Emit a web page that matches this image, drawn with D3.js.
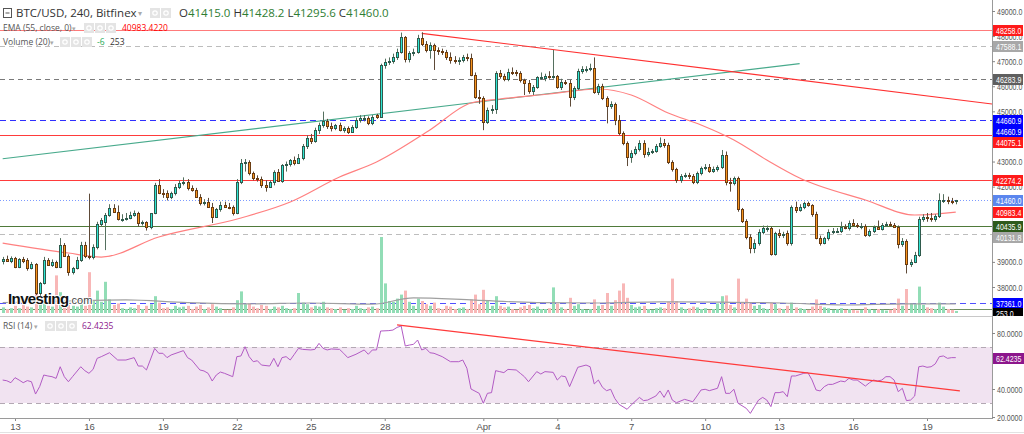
<!DOCTYPE html>
<html lang="en">
<head>
<meta charset="UTF-8"/>
<title>BTC/USD 240 Bitfinex</title>
<script src="https://d3js.org/d3.v7.min.js"></script>
<style>
  body { margin: 0; background: #fff; }
  svg { display: block; font-family: 'Open Sans', 'DejaVu Sans', sans-serif; }
  .ax text { font-family: 'Liberation Sans', Arial, sans-serif; font-size: 9.5px; fill: #555; }
  .ax line { stroke: #888; }
  .ax path { display: none; }
</style>
</head>
<body>
<svg id="chart" width="1024" height="434"></svg>
<script>
// 4h candles, first one at 2022-03-12 12:00 UTC
const firstCandle = Date.UTC(2022, 2, 12, 12);

// [open, high, low, close]
const candles = [
  [39020,39200,38900,39100],[39100,39250,39000,39050],[39050,39220,38950,39150],[39150,39200,38750,38800],
  [38800,39150,38750,39100],[39100,39200,38950,39050],[39080,39150,38650,38750],[38750,39000,38700,38900],
  [38900,38950,37680,37750],[37750,38200,37650,38150],[38150,39200,38100,39080],[39080,39150,38850,38880],
  [38880,39100,38800,39000],[39000,39050,38750,38800],[38800,39950,38750,39680],[39680,39750,39200,39250],
  [39250,39300,38450,38600],[38600,38800,38500,38750],[38750,39200,38700,39080],[39080,39800,39000,39680],
  [39680,39800,39150,39250],[39250,41720,39100,39180],[39180,39700,39100,39580],[39580,40600,39500,40530],
  [40530,40750,40400,40670],[40600,40950,39470,40870],[40870,41300,40800,41130],[41130,41300,40950,41000],
  [41000,41250,40650,40700],[40700,40900,40600,40720],[40720,40950,40650,40750],[40750,41000,40700,40870],
  [40870,41050,40800,40960],[40960,41000,40400,40540],[40540,40650,40450,40580],[40580,40620,40250,40400],
  [40400,40950,40300,40930],[40930,42150,40900,42060],[42060,42300,41700,41760],[41760,41900,41550,41730],
  [41730,41850,41450,41600],[41600,41800,41500,41730],[41730,42100,41650,42000],[42000,42250,41900,42130],
  [42130,42370,42050,42200],[42200,42300,41850,41930],[41930,42050,41800,41870],[41870,41950,41550,41600],
  [41600,41700,41250,41330],[41330,41500,41250,41400],[41400,41550,41150,41200],[41200,41350,40550,40800],
  [40800,41150,40750,41090],[41090,41400,41000,41270],[41270,41400,41150,41200],[41200,41350,41100,41180],
  [41180,41250,40850,40960],[40960,42300,40900,42200],[42200,43100,42100,42950],[42950,43100,42600,43000],
  [43000,43050,42450,42530],[42530,42600,42250,42330],[42330,42450,42200,42290],[42290,42400,41950,42060],
  [42060,42250,41800,42000],[42000,42250,41950,42200],[42200,42650,42050,42600],[42600,42700,42200,42240],
  [42240,42900,42150,42860],[42860,43000,42600,42900],[42900,43100,42800,43050],[43050,43200,42850,42950],
  [42950,43300,42900,43130],[43130,43700,43050,43600],[43600,44050,43500,43950],[43950,44100,43700,43800],
  [43800,44350,43750,44250],[44250,44550,44100,44450],[44450,44990,44350,44600],[44600,44700,44300,44400],
  [44400,44550,44200,44320],[44320,44500,44250,44450],[44450,44550,44200,44260],[44260,44400,44150,44350],
  [44350,44400,44100,44190],[44190,44450,44150,44390],[44390,44750,44300,44650],[44650,44850,44550,44720],
  [44720,44850,44600,44750],[44750,44800,44450,44520],[44520,44850,44450,44790],[44850,44900,44700,44790],
  [44790,46900,44750,46850],[46850,47100,46700,46980],[46980,47150,46850,47020],[47020,47300,46900,47180],
  [47180,47500,47050,47380],[47380,48140,47300,47980],[47980,48000,46950,47070],[47070,47400,46950,47310],
  [47310,47500,47200,47380],[47380,48050,47300,47910],[47910,48150,47600,47700],[47700,47800,47350,47450],
  [47450,47750,47100,47650],[47650,47700,46650,47450],[47450,47550,47250,47420],[47420,47500,47250,47380],
  [47380,47450,47050,47150],[47150,47350,46900,47050],[47050,47200,46900,47020],[47020,47150,46850,47060],
  [47060,47250,46950,47150],[47150,47300,47000,47130],[47130,47300,46400,46450],[46450,46550,45500,45580],
  [45580,45850,45300,45550],[45550,45600,44250,44590],[44590,45150,44500,45050],[45050,45250,44900,45080],
  [45080,46600,44900,46520],[46520,46650,46300,46410],[46410,46500,46200,46280],[46280,46700,46200,46580],
  [46580,46750,46450,46550],[46550,46650,46400,46510],[46510,46600,46150,46250],[46250,46300,45650,46120],
  [46120,46250,45700,45830],[45830,46050,45650,45980],[45980,46400,45900,46350],[46350,46550,46250,46380],
  [46320,46500,46200,46410],[46410,46600,46300,46380],[46380,47450,46300,46420],[46420,46450,45900,45980],
  [45980,46300,45850,46180],[46180,46250,46050,46120],[46120,46250,45190,45580],[45580,46000,45450,45920],
  [45920,46700,45850,46620],[46620,46800,46500,46680],[46680,46800,46550,46700],[46700,46900,46600,46720],
  [46720,47150,45700,45780],[45780,46100,45650,46000],[46000,46100,45450,45520],[45520,45600,44520,45210],
  [45210,45400,45100,45290],[45290,45350,44450,44660],[44660,44850,44050,44120],[44120,44200,43650,43750],
  [43750,43800,42820,43190],[43190,43450,42950,43330],[43330,43600,43250,43480],[43480,43850,43400,43750],
  [43750,43850,43150,43300],[43300,43550,43200,43390],[43390,43500,43300,43430],[43430,43700,43350,43620],
  [43620,43960,43550,43750],[43750,43900,43550,43660],[43660,43750,42900,43000],[43000,43050,42600,42690],
  [42690,42750,42150,42260],[42260,42500,42150,42420],[42420,42550,42350,42450],[42450,42550,42300,42420],
  [42420,42500,42100,42200],[42200,42600,42100,42550],[42550,42800,42450,42750],[42750,42900,42650,42800],
  [42800,42900,42550,42620],[42620,42800,42550,42710],[42710,42850,42600,42790],[42790,43460,42700,43260],
  [43260,43400,42050,42200],[42200,42350,41800,42130],[42130,42400,42050,42330],[42330,42400,41000,41090],
  [41090,41150,40550,40640],[40640,40700,39900,40000],[40000,40100,39340,39540],[39540,39900,39350,39740],
  [39740,40300,39650,40200],[40200,40450,40100,40360],[40330,40450,40200,40360],[40360,40400,39250,39300],
  [39300,40200,39250,40160],[40160,40300,39950,40070],[40070,40200,39950,40100],[40140,40250,39650,39740],
  [39740,41250,39650,41200],[41200,41400,40950,41070],[41070,41300,41000,41170],[41170,41400,41100,41330],
  [41330,41400,41200,41250],[41250,41300,40800,40910],[40910,41000,39900,39940],[39940,40050,39650,39760],
  [39760,40000,39700,39940],[39940,40300,39850,40200],[40200,40350,40100,40230],[40230,40350,40150,40250],
  [40250,40600,40150,40400],[40400,40500,40300,40340],[40340,40650,40250,40560],[40560,40700,40400,40470],
  [40470,40550,40350,40430],[40430,40550,40300,40450],[40450,40500,40000,40070],[40070,40300,40000,40230],
  [40230,40450,40150,40380],[40380,40650,40300,40330],[40330,40550,40250,40470],[40470,40600,40400,40510],
  [40510,40600,40400,40470],[40470,40550,40350,40400],[40400,40450,39540,39710],[39710,39950,39600,39840],
  [39840,39900,38540,38910],[38910,39100,38800,39010],[39010,39400,38950,39270],[39270,40800,39200,40690],
  [40690,40900,40600,40770],[40770,40950,40600,40740],[40740,40950,40600,40690],[40690,40900,40600,40830],
  [40830,41730,40750,41460],[41460,41700,41350,41480],[41480,41600,41300,41430],[41430,41550,41300,41400],
  [41415,41470,41296,41460]
];

const volumes = [
  700,500,600,900,600,1600,800,700,2900,1800,1900,900,800,4700,2600,1400,1500,900,800,1300,
  900,5100,1500,2800,1400,3900,1700,1000,1200,600,500,700,600,1000,500,900,1100,2100,1300,600,
  700,500,900,700,800,900,500,800,1000,500,700,1100,800,600,400,400,700,1600,2700,1100,
  1200,800,600,1000,900,500,800,700,900,600,500,600,2500,1300,1100,700,900,800,1400,700,
  600,500,700,400,600,500,900,600,500,700,800,600,9500,3700,1500,1400,1800,2300,2800,1400,
  900,1800,1500,1100,900,1300,600,500,900,800,500,600,700,500,1700,2300,1100,2900,1500,900,
  2100,900,700,800,500,400,700,900,1000,600,800,500,500,600,3200,1200,700,500,1900,900,
  1100,500,400,500,1700,900,1000,2500,900,1600,2800,3700,1900,1000,700,800,900,500,400,600,
  700,600,1400,4300,1500,700,500,600,800,700,500,600,400,500,1200,2100,2200,1000,700,4300,
  1400,1800,1200,900,1000,600,500,1300,1100,600,500,900,1300,700,600,500,400,800,1700,900,
  700,600,400,500,600,400,500,400,300,400,700,500,400,500,400,300,400,600,1800,900,
  3000,1200,1100,3300,1000,700,600,500,1300,800,500,400,253
];

// [candle index, value]
const volumeMA = [[0,1300],[15,1500],[30,1650],[45,1300],[60,1150],[75,1250],[90,1100],[100,1900],
  [115,1600],[130,1300],[145,1250],[160,1400],[175,1350],[190,1250],[205,1000],[220,1150],[232,1150]];

const ema55 = [[0,39752],[16,39354],[24,39194],[38,39992],[58,40749],[70,41387],[82,42383],[91,42981],
  [104,44257],[114,45333],[121,45492],[133,45692],[145,45891],[153,45652],[162,44934],[170,44456],
  [178,43858],[186,43061],[194,42343],[210,41467],[222,40869],[232,40983]];

const rsi14 = [[0,46.4],[1,45.9],[2,44.5],[3,48.1],[4,46.4],[5,44.5],[6,46.0],[7,45.2],[8,36.4],[9,41.7],
  [10,50.0],[11,49.3],[12,48.8],[13,47.6],[14,55.9],[15,48.8],[16,45.2],[17,48.8],[19,55.9],[20,53.1],
  [21,51.2],[22,54.0],[23,61.9],[24,63.1],[26,65.9],[28,60.7],[30,60.7],[32,62.4],[33,56.4],[34,56.4],
  [35,53.6],[37,69.0],[38,65.5],[39,65.5],[40,62.4],[41,64.3],[44,67.4],[45,62.4],[46,60.7],[48,53.6],
  [49,52.9],[50,51.2],[51,45.7],[52,50.0],[53,52.1],[54,51.2],[56,48.8],[57,63.1],[58,63.6],[59,70.2],
  [60,63.1],[61,59.5],[62,60.2],[63,57.1],[65,56.4],[66,61.9],[67,55.9],[68,62.4],[69,63.1],[70,60.7],
  [71,64.8],[72,69.0],[73,68.3],[75,67.9],[76,68.3],[77,72.6],[78,69.0],[79,67.9],[80,68.6],[82,68.3],
  [83,65.5],[84,62.4],[86,64.8],[88,67.9],[89,64.8],[90,67.9],[91,67.9],[92,81.4],[94,81.7],[95,82.1],
  [96,84.0],[97,85.0],[98,70.7],[99,71.4],[100,71.9],[101,75.0],[102,67.9],[103,69.0],[104,65.9],[105,65.5],
  [107,63.1],[109,59.5],[111,59.5],[112,60.7],[113,54.8],[114,40.0],[116,36.9],[117,29.8],[118,36.9],[119,37.4],
  [120,53.1],[121,52.4],[122,51.7],[123,54.0],[125,53.6],[126,51.2],[127,48.8],[128,45.2],[130,52.4],[131,50.7],
  [132,52.4],[134,51.9],[135,46.4],[136,49.3],[137,48.8],[138,41.7],[140,55.5],[142,57.1],[143,55.9],[144,43.6],
  [145,46.4],[146,41.2],[147,38.8],[148,39.8],[149,33.3],[150,29.1],[152,25.5],[153,28.6],[155,34.0],[156,31.7],
  [157,32.1],[159,35.0],[160,38.6],[161,34.0],[162,39.3],[163,32.1],[164,30.2],[166,32.6],[168,30.9],[169,35.0],
  [170,39.3],[171,39.8],[172,38.8],[174,40.5],[175,48.8],[176,36.9],[177,36.9],[178,39.8],[179,29.8],[181,26.2],
  [182,22.6],[183,27.4],[184,32.1],[185,34.0],[186,32.1],[187,27.4],[188,37.4],[189,37.4],[190,38.1],[191,34.5],
  [192,49.3],[193,49.3],[195,51.2],[196,51.7],[197,46.5],[198,39.3],[199,38.6],[200,41.7],[201,43.3],[202,43.3],
  [204,45.7],[205,45.2],[206,47.6],[207,46.4],[208,46.4],[210,42.1],[211,44.5],[212,46.4],[213,45.7],[214,46.4],
  [215,48.8],[216,48.8],[217,46.4],[218,38.1],[219,40.5],[220,31.7],[221,32.1],[222,35.0],[223,55.9],[224,56.4],
  [225,55.5],[226,55.9],[227,57.9],[228,63.1],[229,63.6],[230,61.9],[231,62.4],[232,62.4]];

// drawn trend lines, [candle index, value]
const trendDown = [[102,48111],[241,45290]];
const trendUp = [[0,43110],[194,46900]];
const rsiTrend = [[96,85.8],[233,38.6]];

// horizontal levels and the axis tags
const levelPrices = [48258.0, 47588.1, 46283.9, 44660.9, 44075.1, 42274.2, 41460.0, 40435.9, 40131.8, 37361.0, 37140.0];
const levelLook = [
  {c:'#ff7b7b', d:null}, {c:'#bdbdbd', d:'5,4'}, {c:'#7a7a7a', d:'5,4'}, {c:'#3030ff', d:'6,4'},
  {c:'#ff3b3b', d:null}, {c:'#ff3b3b', d:null}, {c:'#7d9bff', d:'1,2'}, {c:'#4f7a3a', d:null},
  {c:'#bdbdbd', d:'5,4'}, {c:'#5050ff', d:'6,4'}, {c:'#6f8f60', d:null}
];
const tagPrices = [48258.0, 47588.1, 46283.9, 44660.9, 44660.9, 44075.1, 42274.2, 41460.0, 40983.4, 40435.9, 40131.8, 37361.0];
const tagColors = ['#ff1a1a','#a8a8a8','#5f5f5f','#0000ff','#0000ff','#ff1a1a','#ff1a1a','#5b86ee','#ff1a1a','#2e5a1c','#a8a8a8','#0000ff'];

// tick values that are not fully covered by a tag
const priceTicks = [38000,39000,42000,43000,45000,46000,47000,48000,49000];
const rsiTicks = [20,40,80];
const dayTicks = ['2022-03-13','2022-03-16','2022-03-19','2022-03-22','2022-03-25','2022-03-28',
  '2022-04-01','2022-04-04','2022-04-07','2022-04-10','2022-04-13','2022-04-16','2022-04-19'];
const dayLabels = ['13','16','19','22','25','28','Apr','4','7','10','13','16','19'];

const ohlcNow = ['41415.0','41428.2','41295.6','41460.0'];
const emaNow = '40983.4220';
const volNow = 253;
const rsiNow = '62.4235';

// ---------------------------------------------------------------
const svg = d3.select('#chart');
const AX = 992;
const SQ = 0.74;   // horizontal squeeze of the axis numbers
const x = d3.scaleUtc()
  .domain([new Date('2022-03-13T00:00Z'), new Date('2022-04-19T00:00Z')])
  .range([15, 927]);
const xi = i => x(new Date(firstCandle + i * 4 * 3600 * 1000));
const y = d3.scaleLinear().domain([36844, 49438]).range([316, 0]);
const yv = d3.scaleLinear().domain([0, 10000]).range([313, 233]);
const yr = d3.scaleLinear().domain([20, 80]).range([417, 333]);

const defs = svg.append('defs');
defs.append('clipPath').attr('id', 'cMain').append('rect').attr('x', 0).attr('y', 0).attr('width', AX).attr('height', 316);
defs.append('clipPath').attr('id', 'cRsi').append('rect').attr('x', 0).attr('y', 317).attr('width', AX).attr('height', 101);
defs.append('clipPath').attr('id', 'cVolTag').append('rect').attr('x', AX).attr('y', 0).attr('width', 40).attr('height', 316);

const main = svg.append('g').attr('clip-path', 'url(#cMain)');

// levels
main.append('g').selectAll('line').data(levelPrices).join('line')
  .attr('x1', 0).attr('x2', AX)
  .attr('y1', d => Math.round(y(d)) + 0.5).attr('y2', d => Math.round(y(d)) + 0.5)
  .attr('stroke', (d, i) => levelLook[i].c)
  .attr('stroke-dasharray', (d, i) => levelLook[i].d);

// volume
main.append('g').selectAll('rect').data(volumes).join('rect')
  .attr('x', (d, i) => Math.round(xi(i)) - 1)
  .attr('width', 3)
  .attr('y', d => yv(d))
  .attr('height', d => yv(0) - yv(d))
  .attr('fill', (d, i) => candles[i][3] >= candles[i][0] ? '#92ddb6' : '#f8b7b7');

main.append('path').datum(volumeMA)
  .attr('fill', 'none').attr('stroke', '#a0a0a0').attr('stroke-width', 1.2)
  .attr('d', d3.line().x(d => xi(d[0])).y(d => yv(d[1])).curve(d3.curveMonotoneX));

// watermark
const wm = main.append('text').attr('x', 8).attr('y', 304)
  .style('paint-order', 'stroke').attr('stroke', '#fff').attr('stroke-width', 2);
wm.append('tspan').text('Investing').attr('font-family', 'Liberation Sans, Arial, sans-serif')
  .attr('font-weight', 'bold').attr('font-size', 15).attr('fill', '#111').attr('letter-spacing', -0.6);
wm.append('tspan').text('.com').attr('font-family', 'Liberation Sans, Arial, sans-serif')
  .attr('font-size', 11).attr('fill', '#444');

// trend lines
const tl = d3.line().x(d => xi(d[0])).y(d => y(d[1]));
main.append('path').datum(trendUp).attr('d', tl).attr('stroke', '#48aa8c').attr('stroke-width', 1.2).attr('fill', 'none');
main.append('path').datum(trendDown).attr('d', tl).attr('stroke', '#ff3030').attr('stroke-width', 1.2).attr('fill', 'none');

// EMA 55
main.append('path').datum(ema55)
  .attr('fill', 'none').attr('stroke', '#ff8080').attr('stroke-width', 1.2)
  .attr('d', d3.line().x(d => xi(d[0])).y(d => y(d[1])).curve(d3.curveMonotoneX));

// candles
const cg = main.append('g').selectAll('g').data(candles).join('g');
cg.append('line')
  .attr('x1', (d, i) => Math.round(xi(i)) + 0.5).attr('x2', (d, i) => Math.round(xi(i)) + 0.5)
  .attr('y1', d => y(d[1])).attr('y2', d => y(d[2]))
  .attr('stroke', d => d[3] >= d[0] ? '#55705f' : '#5e4a38');
cg.append('rect')
  .attr('x', (d, i) => Math.round(xi(i)) - 0.5)
  .attr('width', 2)
  .attr('y', d => Math.round(y(Math.max(d[0], d[3]))) + 0.5)
  .attr('height', d => Math.max(1, Math.round(y(Math.min(d[0], d[3]))) - Math.round(y(Math.max(d[0], d[3])))))
  .attr('fill', d => d[3] >= d[0] ? '#2fe6d4' : '#f7941d')
  .attr('stroke', d => d[3] >= d[0] ? '#2f5a4c' : '#6a3c12');

// pane borders
svg.append('line').attr('x1', 0).attr('x2', AX).attr('y1', 316.5).attr('y2', 316.5).attr('stroke', '#c8c8c8');
svg.append('line').attr('x1', 0).attr('x2', AX).attr('y1', 418.5).attr('y2', 418.5).attr('stroke', '#9a9a9a');
svg.append('line').attr('x1', 0).attr('x2', 1024).attr('y1', 432.5).attr('y2', 432.5).attr('stroke', '#e2e2e2');
svg.append('line').attr('x1', AX + 0.5).attr('x2', AX + 0.5).attr('y1', 0).attr('y2', 419).attr('stroke', '#9a9a9a');

// RSI pane
const rp = svg.append('g').attr('clip-path', 'url(#cRsi)');
rp.append('rect').attr('x', 0).attr('width', AX).attr('y', yr(70)).attr('height', yr(30) - yr(70)).attr('fill', '#f1e3f1');
rp.append('g').selectAll('line').data([70, 30]).join('line')
  .attr('x1', 0).attr('x2', AX).attr('y1', d => Math.round(yr(d)) + 0.5).attr('y2', d => Math.round(yr(d)) + 0.5)
  .attr('stroke', '#b3a8b3').attr('stroke-dasharray', '5,4');
rp.append('path').datum(rsi14)
  .attr('fill', 'none').attr('stroke', '#b25bc4').attr('stroke-width', 1)
  .attr('d', d3.line().x(d => xi(d[0])).y(d => yr(d[1])));
rp.append('path').datum(rsiTrend)
  .attr('fill', 'none').attr('stroke', '#ff3a3a').attr('stroke-width', 1.2)
  .attr('d', d3.line().x(d => xi(d[0])).y(d => yr(d[1])));

// axes (numbers squeezed to fit the narrow right strip)
function squeeze(sel, x0) {
  sel.selectAll('.tick text').attr('x', x0 / SQ).attr('transform', `scale(${SQ},1)`);
}
svg.append('g').attr('class', 'ax').attr('transform', `translate(${AX},0)`)
  .call(d3.axisRight(y).tickValues(priceTicks).tickFormat(d => d.toFixed(1)).tickSize(3).tickPadding(2))
  .call(squeeze, 5);
svg.append('g').attr('class', 'ax').attr('transform', `translate(${AX},0)`)
  .call(d3.axisRight(yr).tickValues(rsiTicks).tickFormat(d => d.toFixed(4)).tickSize(3).tickPadding(2))
  .call(squeeze, 5);
svg.append('g').attr('class', 'ax').attr('transform', 'translate(0,419)')
  .call(d3.axisBottom(x).tickValues(dayTicks.map(d => new Date(d + 'T00:00Z')))
    .tickFormat((d, i) => dayLabels[i]).tickSize(2).tickPadding(2));

// axis tags, stacked when they collide
const tags = tagPrices.map((p, i) => ({ p, c: tagColors[i], y: y(p) })).sort((a, b) => a.y - b.y);
for (let i = 1; i < tags.length; i++) {
  if (tags[i].y - tags[i - 1].y < 11) tags[i].y = tags[i - 1].y + 11;
}
const tagFont = "'Liberation Sans', Arial, sans-serif";
function tagText(g, txt) {
  g.append('text').attr('x', 3 / SQ).attr('y', 8.5).attr('transform', `scale(${SQ},1)`)
    .text(txt).attr('fill', '#fff').attr('font-size', 9.5).attr('font-family', tagFont);
}
const tg = svg.append('g').selectAll('g').data(tags).join('g')
  .attr('transform', d => `translate(${AX + 1},${Math.round(d.y) - 5})`);
tg.append('rect').attr('width', 30).attr('height', 11).attr('fill', d => d.c);
tg.each(function (d) { tagText(d3.select(this), d.p.toFixed(1)); });

// volume tag (partly hidden under the pane edge)
const vt = svg.append('g').attr('clip-path', 'url(#cVolTag)')
  .append('g').attr('transform', `translate(${AX + 1},${Math.round(yv(volNow)) - 3})`);
vt.append('rect').attr('width', 30).attr('height', 11).attr('fill', '#000');
tagText(vt, volNow.toFixed(1));

// RSI tag
const rt = svg.append('g').attr('transform', `translate(${AX + 1},${Math.round(yr(+rsiNow)) - 5})`);
rt.append('rect').attr('width', 31).attr('height', 11).attr('fill', '#8c168c');
tagText(rt, rsiNow);

// legends
function icons(g, x0, yc, n) {
  for (let k = 0; k < n; k++) {
    g.append('rect').attr('x', x0 + k * 11).attr('y', yc - 5).attr('width', 10).attr('height', 10)
      .attr('fill', '#e4e4e4');
    g.append('circle').attr('cx', x0 + k * 11 + 5).attr('cy', yc).attr('r', 2.2)
      .attr('fill', 'none').attr('stroke', '#fff').attr('stroke-width', 1.2);
  }
}
const lg = svg.append('g');
lg.append('rect').attr('x', 3.5).attr('y', 8.5).attr('width', 8).attr('height', 9).attr('fill', '#fff').attr('stroke', '#555');
lg.append('line').attr('x1', 5.5).attr('x2', 9.5).attr('y1', 13).attr('y2', 13).attr('stroke', '#555');
lg.append('text').attr('x', 16).attr('y', 17).attr('font-size', 11.5).attr('fill', '#333').text('BTC/USD, 240, Bitfinex');
lg.append('text').attr('x', 138).attr('y', 16).attr('font-size', 8).attr('fill', '#aaa').text('▾');
icons(lg, 150, 13, 2);
const ohlcT = lg.append('text').attr('x', 179).attr('y', 17).attr('font-size', 11.5);
['O', 'H', 'L', 'C'].forEach((k, i) => {
  ohlcT.append('tspan').text((i ? ' ' : '') + k).attr('fill', '#333');
  ohlcT.append('tspan').text(ohlcNow[i]).attr('fill', '#2e7d32');
});

lg.append('text').attr('x', 3).attr('y', 31).attr('font-size', 8.5).attr('fill', '#555').text('EMA (55, close, 0)');
lg.append('text').attr('x', 72).attr('y', 31).attr('font-size', 7).attr('fill', '#aaa').text('▾');
icons(lg, 84, 28, 3);
lg.append('text').attr('x', 122).attr('y', 31).attr('font-size', 8.5).attr('fill', '#ff0000').text(emaNow);

lg.append('text').attr('x', 3).attr('y', 45).attr('font-size', 8.5).attr('fill', '#555').text('Volume (20)');
lg.append('text').attr('x', 50).attr('y', 45).attr('font-size', 7).attr('fill', '#aaa').text('▾');
icons(lg, 60, 42, 3);
lg.append('text').attr('x', 97).attr('y', 45).attr('font-size', 8.5).attr('fill', '#22aa55').text('-6');
lg.append('text').attr('x', 110).attr('y', 45).attr('font-size', 8.5).attr('fill', '#333').text(volNow);

lg.append('text').attr('x', 3).attr('y', 329).attr('font-size', 8.5).attr('fill', '#555').text('RSI (14)');
lg.append('text').attr('x', 34).attr('y', 329).attr('font-size', 7).attr('fill', '#aaa').text('▾');
icons(lg, 45, 326, 3);
lg.append('text').attr('x', 82).attr('y', 329).attr('font-size', 8.5).attr('fill', '#8c168c').text(rsiNow);
</script>
</body>
</html>
